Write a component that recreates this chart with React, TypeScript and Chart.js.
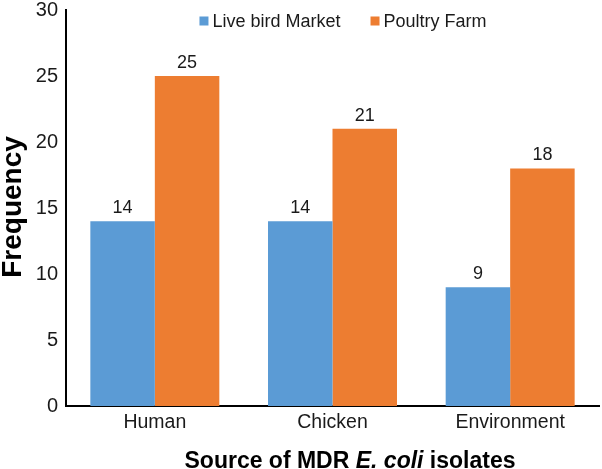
import { useEffect, useRef } from "react";
import { Chart, registerables } from "chart.js";

Chart.register(...registerables);

const CATEGORIES = ["Human", "Chicken", "Environment"];
const LIVE_BIRD_MARKET = [14, 14, 9];
const POULTRY_FARM = [25, 21, 18];
const SERIES_LABELS = ["Live bird Market", "Poultry Farm"];
const COLORS = ["#5B9BD5", "#ED7D31"];

const FONT = "'Liberation Sans', Arial, Helvetica, sans-serif";
const TEXT = "#1a1a1a";

// value labels above each bar
const valueLabels = {
  id: "valueLabels",
  afterDatasetsDraw(chart: any) {
    const { ctx } = chart;
    ctx.save();
    ctx.font = `18px ${FONT}`;
    ctx.fillStyle = TEXT;
    ctx.textAlign = "center";
    ctx.textBaseline = "middle";
    chart.data.datasets.forEach((ds: any, i: number) => {
      chart.getDatasetMeta(i).data.forEach((bar: any, j: number) => {
        ctx.fillText(String(ds.data[j]), bar.x, bar.y - 13);
      });
    });
    ctx.restore();
  },
};

// legend inside the plot + axis titles (x title has an italic part)
const decorations = {
  id: "decorations",
  afterDraw(chart: any) {
    const { ctx } = chart;
    ctx.save();

    // legend
    ctx.font = `18px ${FONT}`;
    ctx.textBaseline = "middle";
    ctx.textAlign = "left";
    const box = 9, gapText = 4, gapItem = 30;
    const widths = SERIES_LABELS.map(t => ctx.measureText(t).width);
    const total = widths.reduce((a, w) => a + box + gapText + w, 0) + gapItem * (SERIES_LABELS.length - 1);
    let x = 343 - total / 2;
    const y = 21;
    SERIES_LABELS.forEach((t, i) => {
      ctx.fillStyle = COLORS[i];
      ctx.fillRect(x, y - box / 2, box, box);
      ctx.fillStyle = TEXT;
      ctx.fillText(t, x + box + gapText, y + 1);
      x += box + gapText + widths[i] + gapItem;
    });

    // y title
    ctx.font = `bold 28px ${FONT}`;
    ctx.fillStyle = "#000";
    ctx.save();
    ctx.translate(13, 207);
    ctx.rotate(-Math.PI / 2);
    ctx.textAlign = "center";
    ctx.fillText("Frequency", 0, 0);
    ctx.restore();

    // x title
    const parts = [
      { t: "Source of MDR ", f: `bold 23px ${FONT}` },
      { t: "E. coli", f: `italic bold 23px ${FONT}` },
      { t: " isolates", f: `bold 23px ${FONT}` },
    ];
    const pw = parts.map(p => { ctx.font = p.f; return ctx.measureText(p.t).width; });
    let tx = 350 - pw.reduce((a, b) => a + b, 0) / 2;
    ctx.textAlign = "left";
    parts.forEach((p, i) => {
      ctx.font = p.f;
      ctx.fillText(p.t, tx, 462);
      tx += pw[i];
    });

    ctx.restore();
  },
};

export default function App() {
  const canvasRef = useRef<HTMLCanvasElement>(null);
  const chartRef = useRef<Chart | null>(null);

  useEffect(() => {
    document.body.style.margin = "0";
    if (!canvasRef.current) return;
    if (chartRef.current) chartRef.current.destroy();

    chartRef.current = new Chart(canvasRef.current, {
      type: "bar",
      data: {
        labels: CATEGORIES,
        datasets: [
          { label: SERIES_LABELS[0], data: LIVE_BIRD_MARKET, backgroundColor: COLORS[0] },
          { label: SERIES_LABELS[1], data: POULTRY_FARM, backgroundColor: COLORS[1] },
        ],
      },
      options: {
        responsive: false,
        animation: false,
        layout: { padding: { top: 0, right: 3, left: 0, bottom: 0 } },
        datasets: { bar: { barPercentage: 1, categoryPercentage: 0.726 } },
        scales: {
          x: {
            grid: { display: false, drawTicks: false },
            border: { display: true, color: "#000", width: 2 },
            ticks: { font: { family: FONT, size: 19.5 }, color: TEXT, padding: 5 },
            afterFit: (s: any) => { s.height = 63; },
          },
          y: {
            min: 0,
            max: 30,
            grid: { display: false, drawTicks: false },
            border: { display: true, color: "#000", width: 2 },
            ticks: { stepSize: 5, font: { family: FONT, size: 20 }, color: TEXT, padding: 8 },
            afterFit: (s: any) => { s.width = 66; s.paddingTop = 10; },
          },
        },
        plugins: {
          legend: { display: false },
          tooltip: { enabled: false },
        },
      },
      plugins: [valueLabels, decorations],
    });

    return () => { chartRef.current?.destroy(); };
  }, []);

  return <canvas ref={canvasRef} width={602} height={469} style={{ display: "block" }} />;
}
